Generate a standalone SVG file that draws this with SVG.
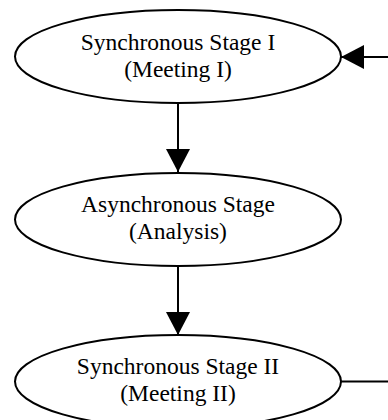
<svg xmlns="http://www.w3.org/2000/svg" width="388" height="420" viewBox="0 0 388 420">
<style>
.node ellipse{fill:#fff;stroke:#000;stroke-width:2}
.node text{font-family:"Liberation Serif","Times New Roman",serif;font-size:23.5px;fill:#000;text-anchor:middle}
.edge{stroke:#000;stroke-width:2;fill:none}
</style>
<defs>
<marker id="ah" markerUnits="userSpaceOnUse" markerWidth="23" markerHeight="24" refX="23" refY="12" orient="auto">
<path d="M0,0 L23,12 L0,24 z" fill="#000"/>
</marker>
</defs>
<rect width="388" height="420" fill="#fff"/>
<g id="connectors">
<line class="edge" x1="178" y1="103" x2="178" y2="172" marker-end="url(#ah)"/>
<line class="edge" x1="178" y1="266" x2="178" y2="335" marker-end="url(#ah)"/>
<line class="edge" x1="341" y1="381.5" x2="388" y2="381.5"/>
<line class="edge" x1="388" y1="57" x2="341" y2="57" marker-end="url(#ah)"/>
</g>
<g id="node1" class="node">
<ellipse cx="178" cy="56.5" rx="163" ry="46.5"/>
<text x="178" y="50">Synchronous Stage I</text>
<text x="178" y="77">(Meeting I)</text>
</g>
<g id="node2" class="node">
<ellipse cx="178" cy="219.5" rx="163" ry="46.5"/>
<text x="178" y="212">Asynchronous Stage</text>
<text x="178" y="239">(Analysis)</text>
</g>
<g id="node3" class="node">
<ellipse cx="178" cy="381.5" rx="163" ry="46.5"/>
<text x="178" y="374">Synchronous Stage II</text>
<text x="178" y="401">(Meeting II)</text>
</g>
</svg>
